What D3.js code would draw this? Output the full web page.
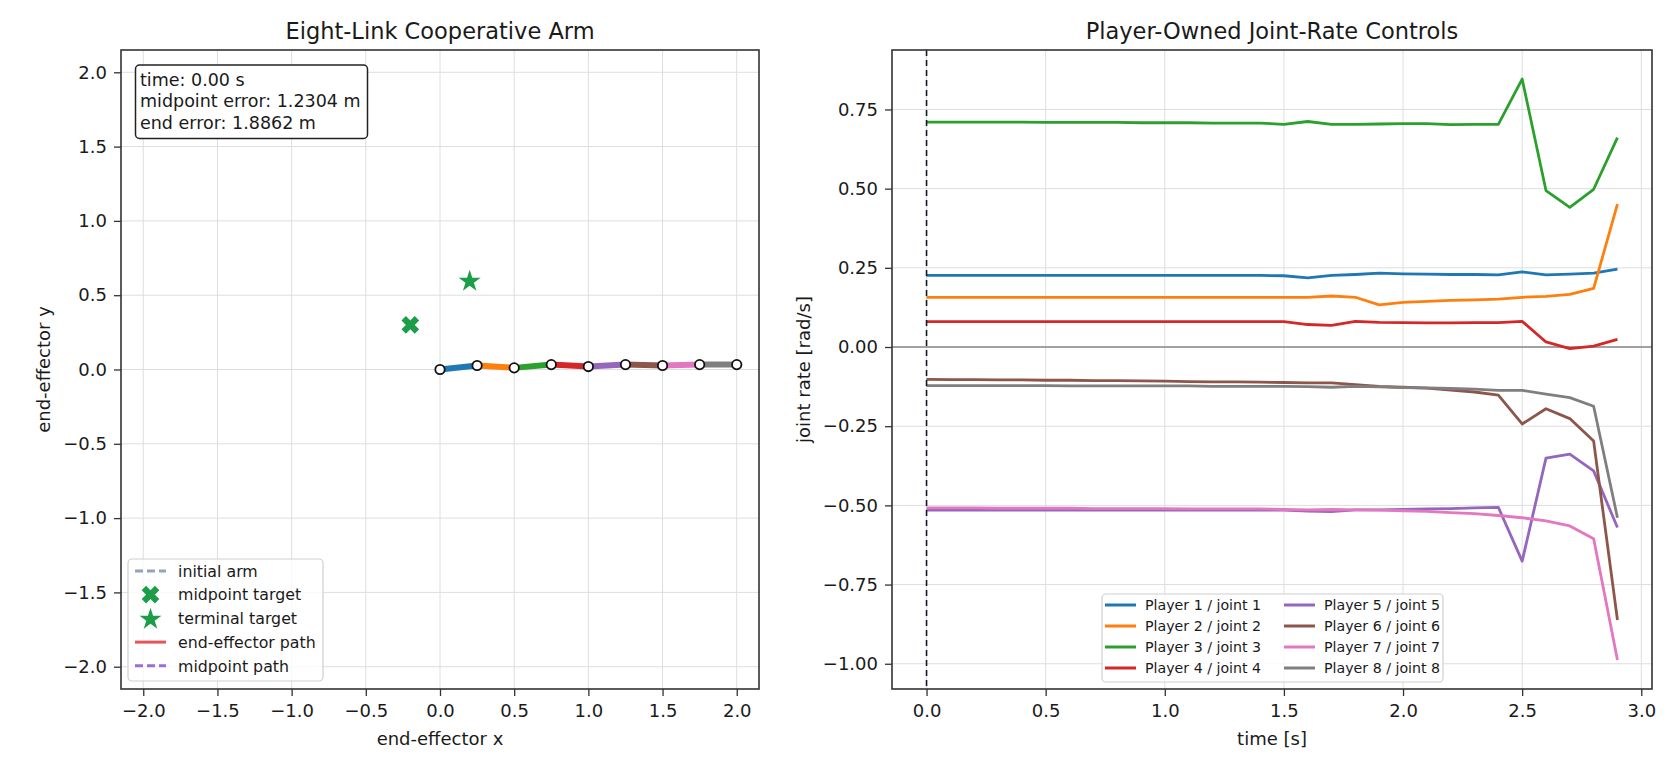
<!DOCTYPE html>
<html>
<head>
<meta charset="utf-8">
<script src="https://cdnjs.cloudflare.com/ajax/libs/d3/7.8.5/d3.min.js"></script>
<style>
  body { margin: 0; background: #fff; }
  svg text { font-family: "DejaVu Sans", sans-serif; fill: #1a1a1a; }
</style>
</head>
<body>
<script>
// ---------- left panel data ----------
const jointX = [0.0, 0.25, 0.5, 0.75, 1.0, 1.25, 1.5, 1.75, 2.0];
const jointY = [0.0, 0.027, 0.011, 0.033, 0.020, 0.033, 0.027, 0.033, 0.033];
const linkColors = ["#1f77b4", "#ff7f0e", "#2ca02c", "#d62728", "#9467bd", "#8c564b", "#e377c2", "#7f7f7f"];
const midTarget = [-0.2, 0.3];
const endTarget = [0.2, 0.6];
const endPath = [[2.0, 0.033]];
const midPath = [[1.0, 0.020]];
const infoLines = ["time: 0.00 s", "midpoint error: 1.2304 m", "end error: 1.8862 m"];
const armTicks = [-2.0, -1.5, -1.0, -0.5, 0.0, 0.5, 1.0, 1.5, 2.0];
const armLegend = ["initial arm", "midpoint target", "terminal target", "end-effector path", "midpoint path"];

// ---------- right panel data ----------
const times = [0.0, 0.1, 0.2, 0.3, 0.4, 0.5, 0.6, 0.7, 0.8, 0.9, 1.0, 1.1, 1.2, 1.3, 1.4,
               1.5, 1.6, 1.7, 1.8, 1.9, 2.0, 2.1, 2.2, 2.3, 2.4, 2.5, 2.6, 2.7, 2.8, 2.9];
const p1 = [0.226, 0.226, 0.226, 0.226, 0.226, 0.226, 0.226, 0.226, 0.226, 0.226, 0.226, 0.226, 0.226, 0.226, 0.226,
            0.225, 0.218, 0.226, 0.229, 0.233, 0.231, 0.230, 0.229, 0.229, 0.228, 0.237, 0.228, 0.230, 0.233, 0.246];
const p2 = [0.157, 0.157, 0.157, 0.157, 0.157, 0.157, 0.157, 0.157, 0.157, 0.157, 0.157, 0.157, 0.157, 0.157, 0.157,
            0.157, 0.157, 0.161, 0.157, 0.133, 0.141, 0.144, 0.147, 0.149, 0.151, 0.157, 0.160, 0.166, 0.185, 0.451];
const p3 = [0.710, 0.710, 0.710, 0.710, 0.710, 0.709, 0.709, 0.709, 0.709, 0.708, 0.708, 0.708, 0.707, 0.707, 0.707,
            0.703, 0.712, 0.703, 0.703, 0.704, 0.705, 0.705, 0.702, 0.703, 0.703, 0.846, 0.494, 0.441, 0.498, 0.661];
const p4 = [0.080, 0.080, 0.080, 0.080, 0.080, 0.080, 0.080, 0.080, 0.080, 0.080, 0.080, 0.080, 0.080, 0.080, 0.080,
            0.080, 0.071, 0.068, 0.081, 0.078, 0.077, 0.076, 0.076, 0.077, 0.077, 0.081, 0.016, -0.005, 0.003, 0.024];
const p5 = [-0.515, -0.515, -0.515, -0.515, -0.515, -0.515, -0.515, -0.515, -0.515, -0.515, -0.515, -0.515, -0.515, -0.515, -0.515,
            -0.515, -0.518, -0.520, -0.514, -0.514, -0.513, -0.511, -0.510, -0.508, -0.506, -0.676, -0.351, -0.338, -0.391, -0.570];
const p6 = [-0.102, -0.103, -0.103, -0.104, -0.104, -0.105, -0.105, -0.106, -0.106, -0.107, -0.108, -0.109, -0.110, -0.110, -0.111,
            -0.112, -0.113, -0.113, -0.119, -0.124, -0.127, -0.130, -0.136, -0.142, -0.152, -0.243, -0.195, -0.226, -0.297, -0.862];
const p7 = [-0.508, -0.508, -0.508, -0.509, -0.509, -0.509, -0.509, -0.510, -0.510, -0.510, -0.510, -0.511, -0.511, -0.511, -0.511,
            -0.513, -0.514, -0.513, -0.514, -0.515, -0.517, -0.519, -0.523, -0.526, -0.532, -0.539, -0.549, -0.565, -0.605, -0.988];
const p8 = [-0.122, -0.122, -0.122, -0.122, -0.122, -0.122, -0.123, -0.123, -0.123, -0.123, -0.123, -0.123, -0.124, -0.124, -0.124,
            -0.124, -0.125, -0.127, -0.124, -0.126, -0.128, -0.129, -0.131, -0.133, -0.137, -0.137, -0.149, -0.160, -0.187, -0.539];
const players = ["Player 1 / joint 1", "Player 2 / joint 2", "Player 3 / joint 3", "Player 4 / joint 4",
                 "Player 5 / joint 5", "Player 6 / joint 6", "Player 7 / joint 7", "Player 8 / joint 8"];
const rateXTicks = [0.0, 0.5, 1.0, 1.5, 2.0, 2.5, 3.0];
const rateYTicks = [-1.0, -0.75, -0.5, -0.25, 0.0, 0.25, 0.5, 0.75];

const series = [p1, p2, p3, p4, p5, p6, p7, p8];

const w = 1680, h = 770;
const gridColor = "#dedede";
const spineColor = "#333";
const green = "#1c9e48";

const svg = d3.select("body").append("svg")
  .attr("width", w).attr("height", h);

function styleAxis(g) {
  g.select(".domain").remove();
  g.selectAll(".tick line").attr("stroke", spineColor).attr("stroke-width", 1.3);
  g.selectAll(".tick text").style("font-size", "18px").attr("fill", "#1a1a1a");
}

// ================= left panel =================
const L = {left: 121, right: 759, top: 50, bottom: 689};
const xL = d3.scaleLinear().domain([-2.15, 2.15]).range([L.left, L.right]);
const yL = d3.scaleLinear().domain([-2.15, 2.15]).range([L.bottom, L.top]);

const left = svg.append("g");

left.append("g").selectAll("line.gx").data(armTicks).enter().append("line")
  .attr("x1", d => xL(d)).attr("x2", d => xL(d))
  .attr("y1", L.top).attr("y2", L.bottom)
  .attr("stroke", gridColor).attr("stroke-width", 1);
left.append("g").selectAll("line.gy").data(armTicks).enter().append("line")
  .attr("y1", d => yL(d)).attr("y2", d => yL(d))
  .attr("x1", L.left).attr("x2", L.right)
  .attr("stroke", gridColor).attr("stroke-width", 1);

const joints = jointX.map((x, i) => [x, jointY[i]]);
const lineL = d3.line().x(d => xL(d[0])).y(d => yL(d[1]));

// initial arm (dashed, under the current arm)
left.append("path").attr("d", lineL(joints))
  .attr("fill", "none").attr("stroke", "#94a3b8").attr("stroke-width", 2.5)
  .attr("stroke-dasharray", "7,4");

// paths (single point at t = 0)
left.append("path").attr("d", lineL(endPath)).attr("fill", "none")
  .attr("stroke", "#e45757").attr("stroke-width", 2.5);
left.append("path").attr("d", lineL(midPath)).attr("fill", "none")
  .attr("stroke", "#9b6ed7").attr("stroke-width", 2.5).attr("stroke-dasharray", "7,4");

// links
left.append("g").selectAll("line").data(linkColors).enter().append("line")
  .attr("x1", (d, i) => xL(jointX[i])).attr("y1", (d, i) => yL(jointY[i]))
  .attr("x2", (d, i) => xL(jointX[i + 1])).attr("y2", (d, i) => yL(jointY[i + 1]))
  .attr("stroke", d => d).attr("stroke-width", 6).attr("stroke-linecap", "round");

left.append("g").selectAll("circle").data(joints).enter().append("circle")
  .attr("cx", d => xL(d[0])).attr("cy", d => yL(d[1])).attr("r", 4.7)
  .attr("fill", "#fff").attr("stroke", "#111").attr("stroke-width", 1.8);

const xSym = d3.symbol().type(d3.symbolCross).size(195);
const starSym = d3.symbol().type(d3.symbolStar).size(150);

left.append("path").attr("d", xSym())
  .attr("transform", `translate(${xL(midTarget[0])},${yL(midTarget[1])}) rotate(45)`)
  .attr("fill", green);
left.append("path").attr("d", starSym())
  .attr("transform", `translate(${xL(endTarget[0])},${yL(endTarget[1]) + 1})`)
  .attr("fill", green);

left.append("g").attr("transform", `translate(0,${L.bottom})`)
  .call(d3.axisBottom(xL).tickValues(armTicks).tickFormat(d3.format(".1f")).tickSize(7).tickPadding(8))
  .call(styleAxis);
left.append("g").attr("transform", `translate(${L.left},0)`)
  .call(d3.axisLeft(yL).tickValues(armTicks).tickFormat(d3.format(".1f")).tickSize(7).tickPadding(7))
  .call(styleAxis);

left.append("rect").attr("x", L.left).attr("y", L.top)
  .attr("width", L.right - L.left).attr("height", L.bottom - L.top)
  .attr("fill", "none").attr("stroke", spineColor).attr("stroke-width", 1.6);

left.append("text").attr("x", (L.left + L.right) / 2).attr("y", 39)
  .attr("text-anchor", "middle").style("font-size", "22.5px").text("Eight-Link Cooperative Arm");
left.append("text").attr("x", (L.left + L.right) / 2).attr("y", 745)
  .attr("text-anchor", "middle").style("font-size", "18px").text("end-effector x");
left.append("text").attr("transform", `translate(50,${(L.top + L.bottom) / 2}) rotate(-90)`)
  .attr("text-anchor", "middle").style("font-size", "18px").text("end-effector y");

// info box
left.append("rect").attr("x", 135.5).attr("y", 65).attr("width", 232).attr("height", 73.5)
  .attr("rx", 4).attr("fill", "#fff").attr("stroke", "#222").attr("stroke-width", 1.5);
left.append("g").selectAll("text").data(infoLines).enter().append("text")
  .attr("x", 140).attr("y", (d, i) => 85.5 + i * 21.7)
  .style("font-size", "17.5px").text(d => d);

// legend
const legL = left.append("g");
legL.append("rect").attr("x", 128).attr("y", 559).attr("width", 195).attr("height", 122)
  .attr("rx", 4).attr("fill", "#fff").attr("fill-opacity", 0.8)
  .attr("stroke", "#cfcfcf").attr("stroke-width", 1.2);
const rowL = legL.selectAll("g.row").data(armLegend).enter().append("g")
  .attr("transform", (d, i) => `translate(0,${571 + i * 23.7})`);
rowL.append("text").attr("x", 178).attr("y", 0).attr("dy", "0.36em")
  .style("font-size", "15.8px").text(d => d);
rowL.each(function (d, i) {
  const g = d3.select(this);
  if (i === 0 || i === 3 || i === 4) {
    g.append("line").attr("x1", 135).attr("x2", 166).attr("y1", 0).attr("y2", 0)
      .attr("stroke", ["#94a3b8", null, null, "#e45757", "#9b6ed7"][i]).attr("stroke-width", 3)
      .attr("stroke-dasharray", i === 3 ? null : "8,4");
  } else if (i === 1) {
    g.append("path").attr("d", xSym()).attr("transform", "translate(150.5,0) rotate(45)").attr("fill", green);
  } else {
    g.append("path").attr("d", starSym()).attr("transform", "translate(150.5,1)").attr("fill", green);
  }
});

// ================= right panel =================
const R = {left: 892, right: 1652, top: 50, bottom: 689};
const tExt = d3.extent(times);
const tPad = (tExt[1] - tExt[0]) * 0.05;
const vMin = d3.min(series, s => d3.min(s));
const vMax = d3.max(series, s => d3.max(s));
const vPad = (vMax - vMin) * 0.05;
const xR = d3.scaleLinear().domain([tExt[0] - tPad, tExt[1] + tPad]).range([R.left, R.right]);
const yR = d3.scaleLinear().domain([vMin - vPad, vMax + vPad]).range([R.bottom, R.top]);

const right = svg.append("g");

right.append("g").selectAll("line").data(rateXTicks).enter().append("line")
  .attr("x1", d => xR(d)).attr("x2", d => xR(d))
  .attr("y1", R.top).attr("y2", R.bottom)
  .attr("stroke", gridColor).attr("stroke-width", 1);
right.append("g").selectAll("line").data(rateYTicks).enter().append("line")
  .attr("y1", d => yR(d)).attr("y2", d => yR(d))
  .attr("x1", R.left).attr("x2", R.right)
  .attr("stroke", gridColor).attr("stroke-width", 1);

right.append("line").attr("x1", R.left).attr("x2", R.right)
  .attr("y1", yR(0)).attr("y2", yR(0))
  .attr("stroke", "#888").attr("stroke-width", 1.3);

const lineR = d3.line().x((d, i) => xR(times[i])).y(d => yR(d));
right.append("g").selectAll("path").data(series).enter().append("path")
  .attr("d", d => lineR(d))
  .attr("fill", "none")
  .attr("stroke", (d, i) => linkColors[i])
  .attr("stroke-width", 2.8)
  .attr("stroke-linejoin", "round");

right.append("line").attr("x1", xR(0)).attr("x2", xR(0))
  .attr("y1", R.top).attr("y2", R.bottom)
  .attr("stroke", "#111827").attr("stroke-width", 1.6).attr("stroke-dasharray", "6,4");

right.append("g").attr("transform", `translate(0,${R.bottom})`)
  .call(d3.axisBottom(xR).tickValues(rateXTicks).tickFormat(d3.format(".1f")).tickSize(7).tickPadding(8))
  .call(styleAxis);
right.append("g").attr("transform", `translate(${R.left},0)`)
  .call(d3.axisLeft(yR).tickValues(rateYTicks).tickFormat(d3.format(".2f")).tickSize(7).tickPadding(7))
  .call(styleAxis);

right.append("rect").attr("x", R.left).attr("y", R.top)
  .attr("width", R.right - R.left).attr("height", R.bottom - R.top)
  .attr("fill", "none").attr("stroke", spineColor).attr("stroke-width", 1.6);

right.append("text").attr("x", (R.left + R.right) / 2).attr("y", 39)
  .attr("text-anchor", "middle").style("font-size", "22.5px").text("Player-Owned Joint-Rate Controls");
right.append("text").attr("x", (R.left + R.right) / 2).attr("y", 745)
  .attr("text-anchor", "middle").style("font-size", "18px").text("time [s]");
right.append("text").attr("transform", `translate(810,${(R.top + R.bottom) / 2}) rotate(-90)`)
  .attr("text-anchor", "middle").style("font-size", "18px").text("joint rate [rad/s]");

// legend (two columns, lower center)
const legR = right.append("g");
legR.append("rect").attr("x", 1102).attr("y", 594).attr("width", 341).attr("height", 88)
  .attr("rx", 4).attr("fill", "#fff").attr("fill-opacity", 0.8)
  .attr("stroke", "#cfcfcf").attr("stroke-width", 1.2);
const rowR = legR.selectAll("g.row").data(players).enter().append("g")
  .attr("transform", (d, i) => `translate(${i < 4 ? 0 : 179},${605 + (i % 4) * 21})`);
rowR.append("line").attr("x1", 1105).attr("x2", 1136).attr("y1", 0).attr("y2", 0)
  .attr("stroke", (d, i) => linkColors[i]).attr("stroke-width", 3);
rowR.append("text").attr("x", 1145).attr("y", 0).attr("dy", "0.36em")
  .style("font-size", "14.2px").text(d => d);
</script>
</body>
</html>
